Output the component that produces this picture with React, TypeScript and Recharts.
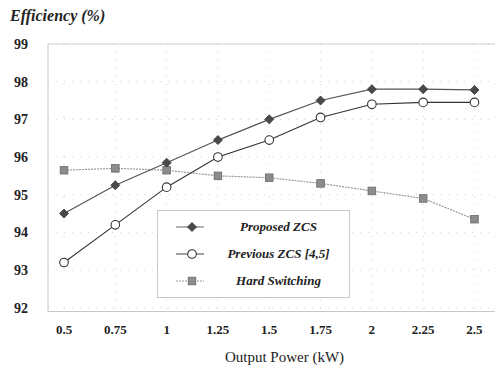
import React from "react";
import {
  CartesianGrid,
  Legend,
  Line,
  LineChart,
  ReferenceLine,
  XAxis,
  YAxis,
} from "recharts";

const power = [0.5, 0.75, 1, 1.25, 1.5, 1.75, 2, 2.25, 2.5];
const proposedZcs = [94.5, 95.25, 95.85, 96.45, 97.0, 97.5, 97.8, 97.8, 97.78];
const previousZcs = [93.2, 94.2, 95.2, 96.0, 96.45, 97.05, 97.4, 97.45, 97.45];
const hardSwitching = [95.65, 95.7, 95.65, 95.5, 95.45, 95.3, 95.1, 94.9, 94.35];
const yTicks = [92, 93, 94, 95, 96, 97, 98, 99];

const data = power.map((p, i) => ({
  power: p,
  proposed: proposedZcs[i],
  previous: previousZcs[i],
  hard: hardSwitching[i],
}));

const serif = "Liberation Serif, Tinos, Times New Roman, DejaVu Serif, serif";

function Diamond({ cx, cy }: any) {
  if (cx == null || cy == null) return null;
  const r = 4.5;
  return (
    <polygon
      points={`${cx},${cy - r} ${cx + r},${cy} ${cx},${cy + r} ${cx - r},${cy}`}
      fill="#4a4a4a"
      stroke="#333"
      strokeWidth={0.8}
    />
  );
}

function Circle({ cx, cy }: any) {
  if (cx == null || cy == null) return null;
  return <circle cx={cx} cy={cy} r={4.3} fill="#fff" stroke="#333" strokeWidth={1.1} />;
}

function Square({ cx, cy }: any) {
  if (cx == null || cy == null) return null;
  return (
    <rect x={cx - 3.8} y={cy - 3.8} width={7.6} height={7.6} fill="#8c8c8c" stroke="#6a6a6a" strokeWidth={0.8} />
  );
}

const legendRows = [
  { name: "Proposed ZCS", Marker: Diamond, line: "#666", dash: undefined },
  { name: "Previous ZCS [4,5]", Marker: Circle, line: "#444", dash: undefined },
  { name: "Hard Switching", Marker: Square, line: "#999", dash: "2 1" },
];

function LegendBox() {
  return (
    <div
      style={{
        width: 193,
        height: 88,
        border: "1px solid #c8c8c8",
        background: "#fff",
        boxSizing: "border-box",
        paddingTop: 2,
      }}
    >
      {legendRows.map(({ name, Marker, line, dash }) => (
        <div key={name} style={{ display: "flex", alignItems: "center", height: 27 }}>
          <svg width={50} height={14} style={{ marginLeft: 8 }}>
            <line x1={10} x2={38} y1={7} y2={7} stroke={line} strokeWidth={1} strokeDasharray={dash} />
            <Marker cx={26} cy={7} />
          </svg>
          <span
            style={{
              flex: 1,
              textAlign: "center",
              fontFamily: serif,
              fontWeight: "bold",
              fontStyle: "italic",
              fontSize: 13,
              color: "#222",
              paddingRight: 8,
            }}
          >
            {name}
          </span>
        </div>
      ))}
    </div>
  );
}

export default function App() {
  return (
    <div style={{ position: "absolute", left: 0, top: 0, width: 495, height: 365, background: "#fff", fontFamily: serif }}>
      <div
        style={{
          position: "absolute",
          left: 10,
          top: 7,
          fontFamily: serif,
          fontWeight: "bold",
          fontStyle: "italic",
          fontSize: 16,
          color: "#222",
        }}
      >
        Efficiency (%)
      </div>
      <LineChart width={495} height={365} data={data} margin={{ top: 44, right: 0, bottom: 0, left: 0 }}>
        <CartesianGrid stroke="#d4d4d4" strokeDasharray="1 7" />
        <XAxis
          dataKey="power"
          type="number"
          domain={[0.422, 2.6]}
          ticks={power}
          allowDataOverflow
          height={53.5}
          tickLine={false}
          tickSize={0}
          tickMargin={13}
          axisLine={{ stroke: "#c8c8c8" }}
          tick={{ fontFamily: serif, fontWeight: "bold", fontSize: 13, fill: "#222" }}
          label={{
            value: "Output Power (kW)",
            position: "insideBottom",
            offset: 3,
            dx: 13,
            style: { fontFamily: serif, fontSize: 15, fill: "#222" },
          }}
        />
        <YAxis
          type="number"
          domain={[91.9, 99]}
          ticks={yTicks}
          allowDataOverflow
          width={48}
          tickLine={false}
          tickSize={0}
          tickMargin={20}
          axisLine={{ stroke: "#c8c8c8" }}
          tick={{ fontFamily: serif, fontWeight: "bold", fontSize: 14, fill: "#222" }}
        />
        <ReferenceLine y={99} stroke="#cfcfcf" />
        <Legend
          layout="vertical"
          align="center"
          verticalAlign="middle"
          content={() => <LegendBox />}
          wrapperStyle={{ left: 157, top: 210, width: 193, height: 88 }}
        />
        <Line
          dataKey="hard"
          name="Hard Switching"
          stroke="#999"
          strokeWidth={1.2}
          strokeDasharray="2 1"
          dot={<Square />}
          isAnimationActive={false}
        />
        <Line
          dataKey="previous"
          name="Previous ZCS [4,5]"
          stroke="#333"
          strokeWidth={1.1}
          dot={<Circle />}
          isAnimationActive={false}
        />
        <Line
          dataKey="proposed"
          name="Proposed ZCS"
          stroke="#555"
          strokeWidth={1.2}
          dot={<Diamond />}
          isAnimationActive={false}
        />
      </LineChart>
    </div>
  );
}
